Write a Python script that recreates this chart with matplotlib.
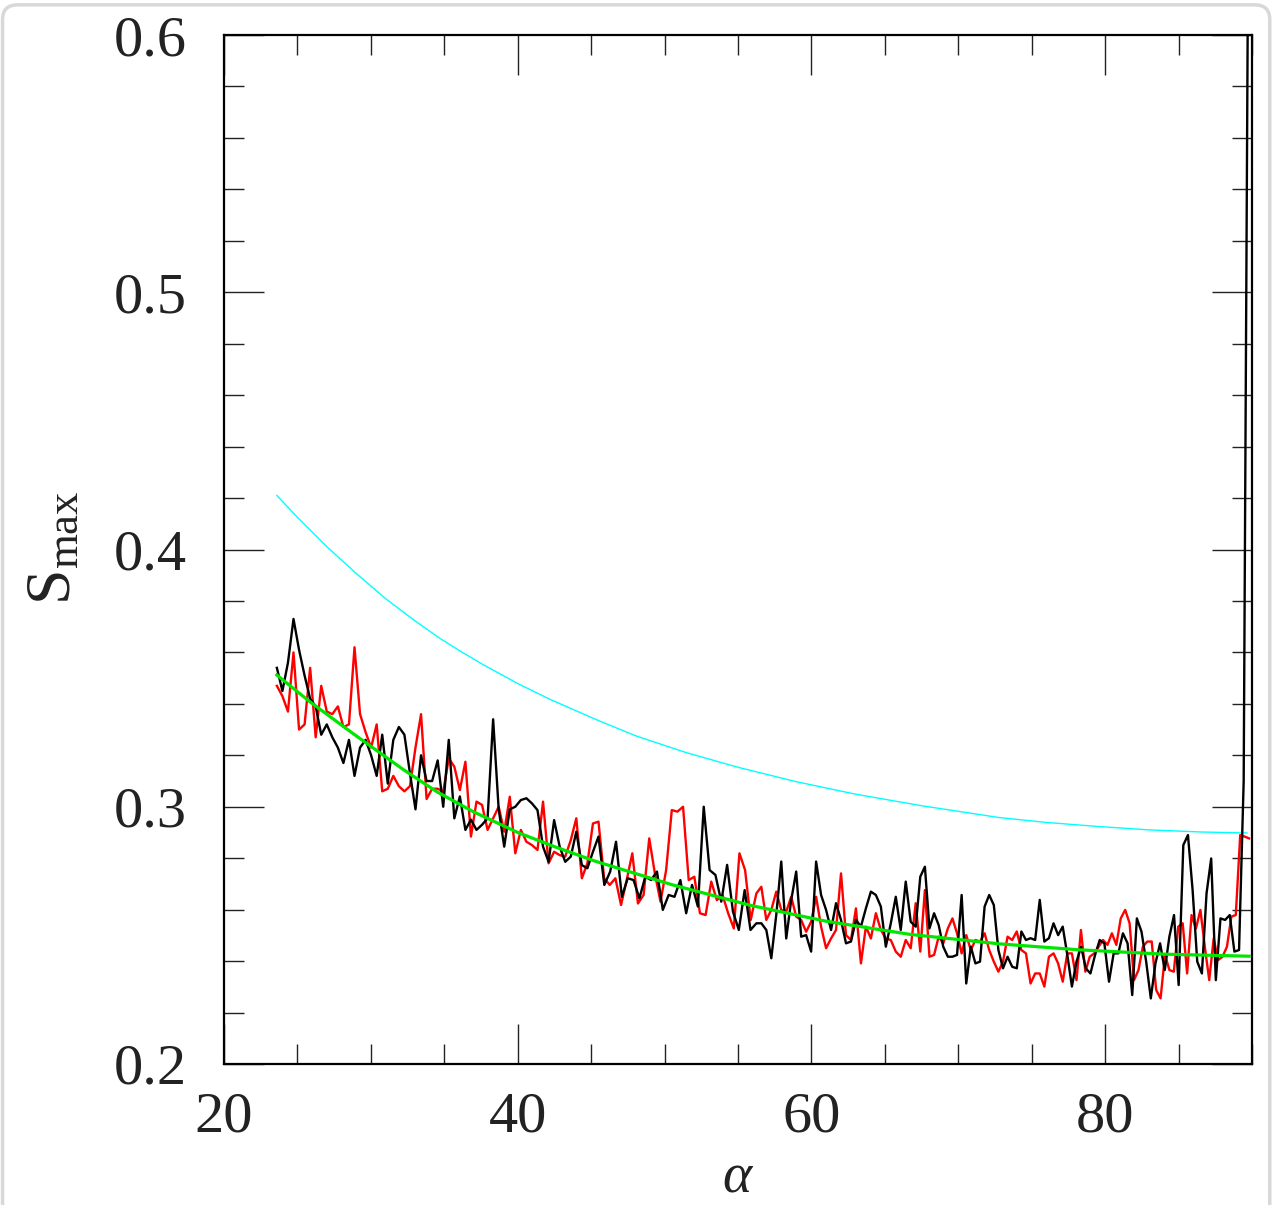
import numpy as np
import matplotlib
matplotlib.use("Agg")
import matplotlib.pyplot as plt
from matplotlib.patches import FancyBboxPatch
from matplotlib.ticker import MultipleLocator

# ---------------- data ----------------
# alpha positions of segment boundaries
seg_edges = [23.6, 34.55, 45.5, 56.25, 67.1, 78.05]
black_end = 89.75
red_end = 89.8

black_seg_values = [
    [0.354, 0.345, 0.356, 0.373, 0.361, 0.351, 0.342, 0.339, 0.328, 0.332,
     0.327, 0.323, 0.317, 0.326, 0.312, 0.323, 0.326, 0.320, 0.312, 0.328,
     0.309, 0.326, 0.331, 0.328, 0.313, 0.299, 0.320, 0.310, 0.310, 0.318],
    [0.300, 0.326, 0.2955, 0.304, 0.291, 0.295, 0.291, 0.293, 0.2955, 0.334,
     0.299, 0.2845, 0.299, 0.300, 0.3026, 0.3033, 0.3013, 0.2987, 0.2845, 0.2786,
     0.2948, 0.2845, 0.2786, 0.2806, 0.2903, 0.2773, 0.2761, 0.2825, 0.2884],
    [0.2696, 0.2748, 0.2864, 0.2650, 0.2722, 0.2715, 0.2644, 0.2728, 0.2715, 0.2748,
     0.2599, 0.2657, 0.2650, 0.2715, 0.2586, 0.2696, 0.2612, 0.3000, 0.2754, 0.2735,
     0.2631, 0.2774, 0.2592, 0.2521, 0.2676, 0.2521, 0.2547],
    [0.2547, 0.2521, 0.2411, 0.2580, 0.2787, 0.2488, 0.2637, 0.2748, 0.2495, 0.2501,
     0.2437, 0.2787, 0.2657, 0.2599, 0.2521, 0.2625, 0.2560, 0.2469, 0.2476, 0.2560,
     0.2534, 0.2605, 0.2670, 0.2657, 0.2612, 0.2456, 0.2547, 0.2650, 0.2521, 0.2709,
     0.2553, 0.2534],
    [0.2728, 0.2767, 0.2527, 0.2586, 0.2540, 0.2456, 0.2417, 0.2417, 0.2424, 0.2657,
     0.2313, 0.2456, 0.2391, 0.2398, 0.2612, 0.2657, 0.2618, 0.2443, 0.2372, 0.2417,
     0.2378, 0.2372, 0.2515, 0.2482, 0.2489, 0.2482, 0.2638, 0.2476, 0.2489, 0.2547,
     0.2501, 0.2534, 0.2424, 0.2301, 0.2398],
    [0.2456, 0.2372, 0.2352, 0.2424, 0.2482, 0.2469, 0.2320, 0.2430, 0.2430, 0.2508,
     0.2469, 0.2268, 0.2566, 0.2514, 0.2398, 0.2255, 0.2391, 0.2469, 0.2365, 0.2495,
     0.2579, 0.2307, 0.2851, 0.2890, 0.2676, 0.2398, 0.2352, 0.2663, 0.2799, 0.2326,
     0.2566, 0.2560, 0.2579, 0.2437, 0.2443, 0.3100, 0.6500],
]

red_seg_values = [
    [0.347, 0.343, 0.337, 0.360, 0.330, 0.332, 0.354, 0.327, 0.347, 0.337,
     0.336, 0.339, 0.331, 0.332, 0.362, 0.336, 0.329, 0.323, 0.332, 0.306,
     0.307, 0.312, 0.308, 0.306, 0.308, 0.323, 0.336, 0.303, 0.307, 0.307],
    [0.3059, 0.3188, 0.3156, 0.3065, 0.3175, 0.2884, 0.3020, 0.3007, 0.2910, 0.2955,
     0.3000, 0.2903, 0.3039, 0.2819, 0.2910, 0.2864, 0.2851, 0.2832, 0.3020, 0.2780,
     0.2825, 0.2812, 0.2806, 0.2870, 0.2955, 0.2722, 0.2780, 0.2935, 0.2942],
    [0.2722, 0.2696, 0.2722, 0.2618, 0.2715, 0.2819, 0.2624, 0.2657, 0.2877, 0.2741,
     0.2631, 0.2754, 0.2987, 0.2981, 0.3000, 0.2715, 0.2728, 0.2586, 0.2579, 0.2709,
     0.2637, 0.2657, 0.2586, 0.2527, 0.2819, 0.2754, 0.2560, 0.2663],
    [0.2689, 0.2560, 0.2599, 0.2670, 0.2599, 0.2592, 0.2650, 0.2573, 0.2560, 0.2514,
     0.2553, 0.2650, 0.2534, 0.2450, 0.2488, 0.2521, 0.2741, 0.2501, 0.2482, 0.2605,
     0.2391, 0.2534, 0.2488, 0.2586, 0.2521, 0.2488, 0.2482, 0.2437, 0.2417, 0.2482,
     0.2450, 0.2625],
    [0.2437, 0.2676, 0.2417, 0.2424, 0.2495, 0.2469, 0.2527, 0.2566, 0.2508, 0.2430,
     0.2501, 0.2443, 0.2482, 0.2476, 0.2508, 0.2443, 0.2398, 0.2359, 0.2398, 0.2495,
     0.2482, 0.2515, 0.2443, 0.2430, 0.2313, 0.2352, 0.2352, 0.2301, 0.2417, 0.2430,
     0.2391, 0.2320, 0.2430, 0.2430, 0.2326],
    [0.2521, 0.2359, 0.2417, 0.2430, 0.2456, 0.2482, 0.2463, 0.2508, 0.2463, 0.2566,
     0.2599, 0.2547, 0.2326, 0.2365, 0.2456, 0.2476, 0.2476, 0.2288, 0.2255, 0.2424,
     0.2365, 0.2359, 0.2534, 0.2547, 0.2352, 0.2579, 0.2527, 0.2599, 0.2456, 0.2326,
     0.2488, 0.2404, 0.2417, 0.2456, 0.2573, 0.2579, 0.2890, 0.2884, 0.2877],
]

cyan_alpha = [23.6, 25.0, 27.0, 29.0, 31.07, 33.0, 34.69, 36.0, 37.69, 40.0,
              42.18, 45.58, 48.07, 51.5, 55.1, 59.0, 63.0, 67.5, 72.79, 76.0,
              79.59, 83.0, 86.5, 89.66]
cyan_vals = [0.4210, 0.4125, 0.4011, 0.3907, 0.3806, 0.3723, 0.3655, 0.3608, 0.3551, 0.3479,
             0.3418, 0.3333, 0.3275, 0.3210, 0.3152, 0.3097, 0.3049, 0.3004, 0.2958, 0.2939,
             0.2923, 0.2910, 0.2902, 0.2898]

green_alpha = [23.6, 25.85, 28.8, 32.2, 34.5, 37.0, 40.0, 42.5, 45.3, 50.5,
               55.9, 61.0, 66.7, 72.8, 78.2, 84.0, 89.8]
green_vals = [0.3512, 0.3408, 0.3284, 0.3145, 0.3058, 0.2980, 0.2900, 0.2845, 0.2788, 0.2697,
              0.2616, 0.2555, 0.2504, 0.2467, 0.2444, 0.2427, 0.2419]

x_ticks = [20, 40, 60, 80]
y_ticks = [0.2, 0.3, 0.4, 0.5, 0.6]


def seg_grid(edges, last, seg_vals):
    """x positions: each segment's samples spaced evenly between its edges."""
    bounds = list(edges) + [last]
    xs = []
    for i, vals in enumerate(seg_vals):
        n = len(vals)
        if i == 0:
            xs.append(np.linspace(bounds[0], bounds[1], n))
        else:
            xs.append(np.linspace(bounds[i], bounds[i + 1], n + 1)[1:])
    return np.concatenate(xs), np.concatenate([np.asarray(v) for v in seg_vals])


bx, by = seg_grid(seg_edges, black_end, black_seg_values)
rx, ry = seg_grid(seg_edges, red_end, red_seg_values)

# ---------------- figure ----------------
plt.rcParams['mathtext.fontset'] = 'custom'
plt.rcParams['mathtext.rm'] = 'Liberation Serif'
plt.rcParams['mathtext.it'] = 'Liberation Serif:italic'

fig = plt.figure(figsize=(12.8, 12.05), dpi=100)
fig.patch.set_facecolor('white')
border = FancyBboxPatch((0.002, -0.05), 0.99, 1.046,
                        boxstyle="round,pad=0,rounding_size=0.012",
                        transform=fig.transFigure, facecolor='none',
                        edgecolor='#d8d8d8', lw=2.5, zorder=-1)
fig.patches.append(border)

ax = fig.add_axes([224 / 1280, 1 - 1064 / 1205, 1028 / 1280, 1029 / 1205])

ax.plot(cyan_alpha, cyan_vals, color='#00ffff', lw=1.0)
ax.plot(rx, ry, color='#ff0000', lw=1.7)
ax.plot(bx, by, color='#000000', lw=1.7)
ax.plot(green_alpha, green_vals, color='#00e600', lw=2.3)

ax.set_xlim(20, 90)
ax.set_ylim(0.2, 0.6)
ax.set_xticks(x_ticks)
ax.set_yticks(y_ticks)
ax.xaxis.set_minor_locator(MultipleLocator(5))
ax.yaxis.set_minor_locator(MultipleLocator(0.02))
ax.set_xticklabels([str(v) for v in x_ticks])
ax.set_yticklabels([f"{v:.1f}" for v in y_ticks])

ax.tick_params(which='both', direction='in', top=True, right=True,
               color='#222222', width=1.0)
ax.tick_params(which='major', length=29)
ax.tick_params(which='minor', length=14.5)
ax.tick_params(axis='x', which='major', pad=20)
ax.tick_params(axis='y', which='major', pad=27)
for lab in ax.get_xticklabels() + ax.get_yticklabels():
    lab.set_fontfamily('Liberation Serif')
    lab.set_fontsize(42)
    lab.set_color('#222222')
for sp in ax.spines.values():
    sp.set_linewidth(1.6)
    sp.set_color('black')

fig.text(52 / 1280, 1 - 548 / 1205, r'$\mathrm{S_{max}}$', rotation=90,
         ha='center', va='center', fontsize=46, color='#222222')
fig.text(738 / 1280, 1 - 1176 / 1205, r'$\alpha$', ha='center', va='center',
         fontsize=40, color='#222222')

fig.savefig('out.png', dpi=100, facecolor='white')
